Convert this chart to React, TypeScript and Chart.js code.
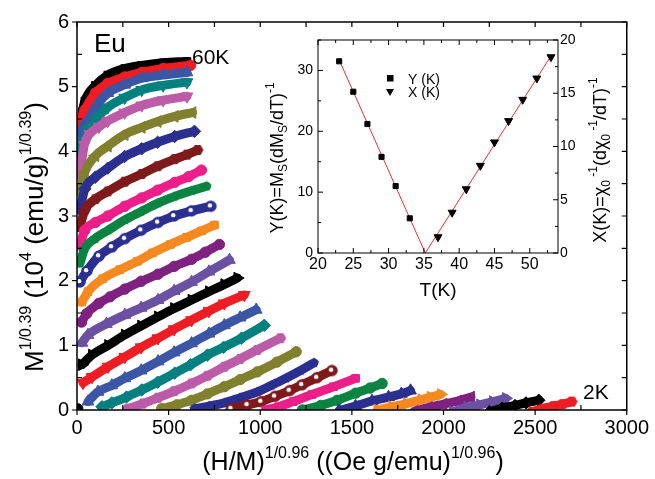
import React, { useEffect, useRef } from 'react';
import { Chart, registerables } from 'chart.js';
Chart.register(...registerables);

const FAMILY = "'Liberation Sans', Arial, Helvetica, sans-serif";

// ---------- main plot data: [ (H/M)^(1/0.96), M^(1/0.39) ] ----------
const temperaturesK = [2, 4, 6, 8, 10, 12, 14, 16, 18, 20, 22, 24, 26, 28, 30, 32, 34, 36, 38, 40, 42, 44, 46, 48, 50, 52, 54, 56, 58, 60];

const m02K: number[][] = [[2480, -0.03], [2540, 0.02], [2600, 0.06], [2650, 0.09], [2700, 0.13]];
const m04K: number[][] = [[2250, -0.03], [2320, 0.03], [2390, 0.07], [2450, 0.11], [2520, 0.15]];
const m06K: number[][] = [[2050, -0.03], [2130, 0.04], [2200, 0.08], [2270, 0.13], [2340, 0.18]];
const m08K: number[][] = [[1840, -0.02], [1920, 0.04], [2000, 0.09], [2080, 0.14], [2150, 0.2]];
const m10K: number[][] = [[1640, 0.0], [1720, 0.05], [1800, 0.1], [1880, 0.16], [1930, 0.2], [1985, 0.24]];
const m12K: number[][] = [[1430, -0.01], [1520, 0.06], [1610, 0.14], [1700, 0.2], [1770, 0.25], [1820, 0.3]];
const m14K: number[][] = [[1230, 0.0], [1330, 0.07], [1420, 0.15], [1520, 0.26], [1600, 0.34], [1665, 0.41]];
const m16K: number[][] = [[1030, 0.0], [1100, 0.05], [1180, 0.13], [1283, 0.24], [1400, 0.36], [1520, 0.49]];
const m18K: number[][] = [[842, 0.02], [930, 0.08], [1005, 0.13], [1080, 0.21], [1160, 0.3], [1228, 0.39], [1310, 0.5], [1391, 0.61]];
const m20K: number[][] = [[641, 0.02], [720, 0.06], [804, 0.11], [890, 0.19], [984, 0.28], [1060, 0.38], [1140, 0.49], [1220, 0.61], [1293, 0.73]];
const m22K: number[][] = [[462, 0.02], [545, 0.08], [625, 0.15], [712, 0.25], [804, 0.36], [890, 0.47], [984, 0.59], [1090, 0.74], [1196, 0.9]];
const m24K: number[][] = [[277, 0.02], [360, 0.1], [442, 0.19], [530, 0.29], [625, 0.41], [712, 0.53], [804, 0.67], [890, 0.79], [984, 0.93], [1110, 1.11]];
const m26K: number[][] = [[136, 0.05], [190, 0.11], [270, 0.2], [353, 0.31], [440, 0.43], [533, 0.57], [620, 0.7], [712, 0.85], [800, 0.97], [897, 1.11], [1022, 1.31]];
const m28K: number[][] = [[60, 0.13], [114, 0.28], [190, 0.38], [261, 0.49], [350, 0.61], [442, 0.75], [530, 0.89], [625, 1.03], [720, 1.18], [804, 1.31], [890, 1.43], [978, 1.55]];
const m30K: number[][] = [[33, 0.42], [82, 0.51], [170, 0.67], [261, 0.82], [350, 0.97], [442, 1.11], [530, 1.25], [625, 1.39], [720, 1.53], [804, 1.65], [913, 1.78]];
const m32K: number[][] = [[27, 0.7], [82, 0.85], [170, 1.0], [261, 1.16], [350, 1.3], [442, 1.44], [530, 1.57], [625, 1.7], [720, 1.83], [804, 1.94], [875, 2.04]];
const m34K: number[][] = [[27, 1.04], [60, 1.16], [160, 1.33], [261, 1.47], [350, 1.58], [442, 1.7], [530, 1.84], [625, 1.98], [720, 2.14], [832, 2.32]];
const m36K: number[][] = [[25, 1.36], [53, 1.49], [120, 1.65], [180, 1.75], [261, 1.87], [350, 1.99], [442, 2.1], [530, 2.22], [625, 2.33], [700, 2.44], [777, 2.56]];
const m38K: number[][] = [[27, 1.67], [60, 1.83], [140, 2.03], [234, 2.17], [330, 2.3], [413, 2.43], [510, 2.56], [598, 2.67], [680, 2.77], [750, 2.86]];
const m40K: number[][] = [[16, 1.98], [54, 2.15], [120, 2.38], [190, 2.52], [261, 2.65], [350, 2.78], [442, 2.9], [530, 3.0], [625, 3.08], [730, 3.15]];
const m42K: number[][] = [[16, 2.27], [43, 2.5], [98, 2.65], [170, 2.78], [261, 2.94], [350, 3.07], [442, 3.2], [530, 3.3], [625, 3.39], [707, 3.46]];
const m44K: number[][] = [[16, 2.55], [43, 2.78], [100, 2.9], [168, 3.0], [260, 3.15], [353, 3.28], [440, 3.4], [533, 3.52], [610, 3.61], [679, 3.71]];
const m46K: number[][] = [[16, 2.83], [43, 3.09], [100, 3.26], [168, 3.38], [260, 3.53], [353, 3.65], [440, 3.77], [533, 3.88], [600, 3.95], [658, 4.02]];
const m48K: number[][] = [[16, 3.1], [43, 3.42], [100, 3.6], [168, 3.74], [260, 3.92], [353, 4.04], [440, 4.14], [533, 4.23], [641, 4.31]];
const m50K: number[][] = [[16, 3.37], [43, 3.68], [100, 3.93], [168, 4.08], [260, 4.26], [353, 4.37], [440, 4.46], [533, 4.54], [630, 4.6]];
const m52K: number[][] = [[16, 3.63], [40, 4.1], [70, 4.27], [120, 4.38], [168, 4.47], [260, 4.6], [353, 4.71], [470, 4.79], [600, 4.85]];
const m54K: number[][] = [[16, 3.82], [35, 4.15], [60, 4.33], [110, 4.52], [168, 4.68], [260, 4.83], [353, 4.95], [470, 5.02], [600, 5.07]];
const m56K: number[][] = [[11, 3.99], [30, 4.35], [60, 4.48], [110, 4.72], [168, 4.9], [260, 5.03], [353, 5.13], [470, 5.18], [600, 5.22]];
const m58K: number[][] = [[11, 4.08], [25, 4.5], [43, 4.64], [100, 4.9], [168, 5.05], [260, 5.15], [353, 5.22], [470, 5.28], [620, 5.33]];
const m60K: number[][] = [[14, 4.22], [30, 4.62], [43, 4.78], [100, 5.02], [168, 5.18], [260, 5.28], [353, 5.33], [470, 5.37], [600, 5.39]];
const strayOrigin: number[][] = [[5, 0.02]];

const seriesByT = [m02K, m04K, m06K, m08K, m10K, m12K, m14K, m16K, m18K, m20K, m22K, m24K, m26K, m28K, m30K,
  m32K, m34K, m36K, m38K, m40K, m42K, m44K, m46K, m48K, m50K, m52K, m54K, m56K, m58K, m60K];

const RED = '#EE1D24', BLACK = '#000000', VIOLET = '#6B51A2', PURPLE = '#7E2180', ORANGE = '#F6891F',
  NAVY = '#2B2F8F', GREEN = '#0B8441', HOTPINK = '#EC1E8A', WINE = '#7E1A1C', OLIVE = '#80802E',
  MAGENTA = '#BC5BA8', TEAL = '#00807F', BLUE = '#3C56A6';

const seriesColors = [RED, BLACK, VIOLET, PURPLE, ORANGE, NAVY, GREEN, HOTPINK, WINE, NAVY, OLIVE, MAGENTA, TEAL, BLUE,
  RED, BLACK, VIOLET, PURPLE, ORANGE, NAVY, GREEN, HOTPINK, WINE, NAVY, OLIVE, MAGENTA, TEAL, BLUE, RED, BLACK];

const seriesShapes = ['hex', 'diamond', 'tri90', 'tri270', 'tri90', 'tri0', 'circle', 'rect', 'sphere', 'star',
  'circle', 'hex', 'diamond', 'tri0', 'tri180', 'tri90', 'tri0', 'circle', 'rect', 'sphere',
  'star', 'circle', 'hex', 'diamond', 'tri270', 'tri180', 'tri180', 'tri0', 'circle', 'rect'];

const xTickStep = 500;
const yTickStep = 1;

// ---------- inset data ----------
const yKTemps = [23, 25, 27, 29, 31, 33];
const yKValues = [31.5, 26.5, 21.2, 15.8, 11.0, 5.7];
const xKTemps = [37, 39, 41, 43, 45, 47, 49, 51, 53];
const xKValues = [1.5, 3.8, 6.0, 8.2, 10.4, 12.4, 14.4, 16.4, 18.4];
const fitYLine = [[23, 31.7], [35.2, 0]];
const fitXLine = [[35.2, 0], [53, 18.5]];

type Seg = { t: string; s: number; dy: number };

function drawRich(ctx: CanvasRenderingContext2D, segs: Seg[], x: number, y: number, rotate: boolean) {
  ctx.save();
  ctx.translate(x, y);
  if (rotate) ctx.rotate(-Math.PI / 2);
  ctx.fillStyle = '#000';
  ctx.textAlign = 'left';
  ctx.textBaseline = 'alphabetic';
  let w = 0;
  for (const s of segs) { ctx.font = `${s.s}px ${FAMILY}`; w += ctx.measureText(s.t).width; }
  let cx = -w / 2;
  for (const s of segs) {
    ctx.font = `${s.s}px ${FAMILY}`;
    ctx.fillText(s.t, cx, s.dy);
    cx += ctx.measureText(s.t).width;
  }
  ctx.restore();
}

function makeMarker(kind: string, color: string, r: number): HTMLCanvasElement {
  const size = Math.ceil(r * 2 + 2);
  const c = document.createElement('canvas');
  c.width = size; c.height = size;
  const g = c.getContext('2d')!;
  const cx = size / 2, cy = size / 2;
  g.fillStyle = color;
  g.beginPath();
  if (kind === 'star') {
    for (let i = 0; i < 10; i++) {
      const a = -Math.PI / 2 + (i * Math.PI) / 5;
      const rr = i % 2 === 0 ? r : r * 0.45;
      const px = cx + rr * Math.cos(a), py = cy + rr * Math.sin(a);
      if (i === 0) g.moveTo(px, py); else g.lineTo(px, py);
    }
    g.closePath();
    g.fill();
  } else if (kind === 'hex') {
    for (let i = 0; i < 6; i++) {
      const a = (i * Math.PI) / 3;
      const px = cx + r * Math.cos(a), py = cy + r * Math.sin(a);
      if (i === 0) g.moveTo(px, py); else g.lineTo(px, py);
    }
    g.closePath();
    g.fill();
  } else {
    g.arc(cx, cy, r, 0, Math.PI * 2);
    g.fill();
    g.fillStyle = '#ffffff';
    g.beginPath();
    g.arc(cx - r * 0.15, cy - r * 0.15, r * 0.38, 0, Math.PI * 2);
    g.fill();
  }
  return c;
}

function shapeProps(kind: string, color: string) {
  switch (kind) {
    case 'rect': return { pointStyle: 'rect', rotation: 0, pointRadius: 5.4 };
    case 'circle': return { pointStyle: 'circle', rotation: 0, pointRadius: 5.2 };
    case 'diamond': return { pointStyle: 'rectRot', rotation: 0, pointRadius: 6.2 };
    case 'tri0': return { pointStyle: 'triangle', rotation: 0, pointRadius: 6.8 };
    case 'tri90': return { pointStyle: 'triangle', rotation: 90, pointRadius: 6.8 };
    case 'tri180': return { pointStyle: 'triangle', rotation: 180, pointRadius: 6.8 };
    case 'tri270': return { pointStyle: 'triangle', rotation: 270, pointRadius: 6.8 };
    default: return { pointStyle: makeMarker(kind, color, 5.8), rotation: 0, pointRadius: 5 };
  }
}

const mainOverlay = {
  id: 'mainOverlay',
  afterDraw(chart: any) {
    const { ctx, chartArea: a, scales } = chart;
    const x = scales.x, y = scales.y;
    ctx.save();
    ctx.strokeStyle = '#000';
    ctx.lineWidth = 1.5;
    ctx.strokeRect(a.left, a.top, a.right - a.left, a.bottom - a.top);
    ctx.lineWidth = 1.2;
    ctx.beginPath();
    for (let v = 0; v <= 3000; v += 250) {
      const px = x.getPixelForValue(v);
      const major = v % 500 === 0;
      if (major) { ctx.moveTo(px, a.bottom); ctx.lineTo(px, a.bottom + 5); }
      else { ctx.moveTo(px, a.bottom); ctx.lineTo(px, a.bottom - 5); }
      ctx.moveTo(px, a.top); ctx.lineTo(px, a.top + 5);
    }
    for (let v = 0; v <= 6; v += 0.5) {
      const py = y.getPixelForValue(v);
      const major = Math.abs(v - Math.round(v)) < 1e-6;
      if (major) { ctx.moveTo(a.left, py); ctx.lineTo(a.left - 5, py); }
      else { ctx.moveTo(a.left, py); ctx.lineTo(a.left + 5, py); }
      ctx.moveTo(a.right, py); ctx.lineTo(a.right - 5, py);
    }
    ctx.stroke();

    ctx.fillStyle = '#000';
    ctx.textAlign = 'left';
    ctx.textBaseline = 'alphabetic';
    ctx.font = `26px ${FAMILY}`;
    ctx.fillText('Eu', 94, 52);
    ctx.font = `21px ${FAMILY}`;
    ctx.fillText('60K', 192, 64);
    ctx.fillText('2K', 583, 399);

    drawRich(ctx, [
      { t: '(H/M)', s: 25, dy: 0 }, { t: '1/0.96', s: 16, dy: -12 },
      { t: ' ((Oe g/emu)', s: 25, dy: 0 }, { t: '1/0.96', s: 16, dy: -12 }, { t: ')', s: 25, dy: 0 },
    ], 353, 470, false);
    drawRich(ctx, [
      { t: 'M', s: 26, dy: 0 }, { t: '1/0.39', s: 16, dy: -12 },
      { t: ' (10', s: 26, dy: 0 }, { t: '4', s: 16, dy: -12 },
      { t: ' (emu/g)', s: 26, dy: 0 }, { t: '1/0.39', s: 16, dy: -12 }, { t: ')', s: 26, dy: 0 },
    ], 43, 237, true);
    ctx.restore();
  },
};

const INSET_LEFT = 260, INSET_TOP = 20;

const insetOverlay = {
  id: 'insetOverlay',
  afterDraw(chart: any) {
    const { ctx, chartArea: a, scales } = chart;
    const x = scales.x, y = scales.y, y2 = scales.y2;
    ctx.save();
    ctx.strokeStyle = '#000';
    ctx.lineWidth = 1;
    ctx.strokeRect(a.left, a.top, a.right - a.left, a.bottom - a.top);
    ctx.beginPath();
    for (let v = 20; v <= 54; v += 2.5) {
      const px = x.getPixelForValue(v);
      const len = v % 5 === 0 ? 5 : 3;
      ctx.moveTo(px, a.bottom); ctx.lineTo(px, a.bottom - len);
      ctx.moveTo(px, a.top); ctx.lineTo(px, a.top + len);
    }
    for (let v = 0; v <= 35; v += 5) {
      const py = y.getPixelForValue(v);
      const len = v % 10 === 0 ? 5 : 3;
      ctx.moveTo(a.left, py); ctx.lineTo(a.left + len, py);
    }
    for (let v = 0; v <= 20; v += 2.5) {
      const py = y2.getPixelForValue(v);
      const len = v % 5 === 0 ? 5 : 3;
      ctx.moveTo(a.right, py); ctx.lineTo(a.right - len, py);
    }
    ctx.stroke();

    const ox = INSET_LEFT, oy = INSET_TOP;
    // legend
    ctx.fillStyle = '#000';
    ctx.fillRect(387 - ox, 75 - oy, 6.5, 6.5);
    ctx.beginPath();
    ctx.moveTo(386 - ox, 89 - oy); ctx.lineTo(394 - ox, 89 - oy); ctx.lineTo(390 - ox, 96 - oy); ctx.closePath();
    ctx.fill();
    ctx.font = `14px ${FAMILY}`;
    ctx.textAlign = 'left';
    ctx.textBaseline = 'alphabetic';
    ctx.fillText('Y (K)', 408 - ox, 84 - oy);
    ctx.fillText('X (K)', 408 - ox, 97 - oy);

    drawRich(ctx, [{ t: 'T(K)', s: 19, dy: 0 }], 438 - ox, 296 - oy, false);
    drawRich(ctx, [
      { t: 'Y(K)=M', s: 18, dy: 0 }, { t: 'S', s: 12, dy: 4 }, { t: '(dM', s: 18, dy: 0 },
      { t: 'S', s: 12, dy: 4 }, { t: '/dT)', s: 18, dy: 0 }, { t: '-1', s: 12, dy: -9 },
    ], 283 - ox, 158 - oy, true);
    drawRich(ctx, [
      { t: 'X(K)=χ', s: 18, dy: 0 }, { t: '0', s: 12, dy: 4 }, { t: ' -1', s: 12, dy: -9 },
      { t: '(dχ', s: 18, dy: 0 }, { t: '0', s: 12, dy: 4 }, { t: ' -1', s: 12, dy: -9 },
      { t: '/dT)', s: 18, dy: 0 }, { t: '-1', s: 12, dy: -9 },
    ], 606 - ox, 160 - oy, true);
    ctx.restore();
  },
};

export default function App() {
  const mainRef = useRef<HTMLCanvasElement>(null);
  const insetRef = useRef<HTMLCanvasElement>(null);

  useEffect(() => {
    const datasets: any[] = seriesByT.map((pts, i) => {
      const color = seriesColors[i];
      const sp = shapeProps(seriesShapes[i], color);
      return {
        label: `${temperaturesK[i]}K`,
        data: pts.map(([px, py]) => ({ x: px, y: py })),
        showLine: true,
        borderColor: color,
        borderWidth: 9,
        borderCapStyle: 'round',
        borderJoinStyle: 'round',
        cubicInterpolationMode: 'monotone',
        backgroundColor: color,
        pointBackgroundColor: color,
        pointBorderColor: color,
        pointBorderWidth: 1,
        pointStyle: sp.pointStyle,
        rotation: sp.rotation,
        pointRadius: sp.pointRadius,
        clip: 0,
      };
    });
    datasets.push({
      label: 'stray',
      data: strayOrigin.map(([px, py]) => ({ x: px, y: py })),
      showLine: false,
      pointStyle: 'circle',
      pointRadius: 5,
      backgroundColor: BLACK,
      pointBorderColor: BLACK,
      clip: 0,
    });

    const tickFont = { family: FAMILY, size: 20 };
    const main = new Chart(mainRef.current!, {
      type: 'scatter',
      data: { datasets },
      options: {
        animation: false,
        responsive: false,
        maintainAspectRatio: false,
        layout: { padding: { top: 22, right: 26, left: 0, bottom: 0 } },
        plugins: { legend: { display: false }, tooltip: { enabled: false } },
        scales: {
          x: {
            type: 'linear', min: 0, max: 3000,
            afterFit: (s: any) => { s.height = 69; },
            grid: { display: false, drawTicks: false },
            border: { display: false },
            ticks: {
              stepSize: xTickStep, font: tickFont, color: '#000', padding: 6, maxRotation: 0,
              callback: (v: any) => String(v),
            },
          },
          y: {
            type: 'linear', min: 0, max: 6,
            afterFit: (s: any) => { s.width = 77; },
            grid: { display: false, drawTicks: false },
            border: { display: false },
            ticks: { stepSize: yTickStep, font: tickFont, color: '#000', padding: 8, callback: (v: any) => String(v) },
          },
        },
      } as any,
      plugins: [mainOverlay],
    } as any);

    const inset = new Chart(insetRef.current!, {
      type: 'scatter',
      data: {
        datasets: [
          {
            label: 'Y (K)',
            data: yKTemps.map((t, i) => ({ x: t, y: yKValues[i] })),
            yAxisID: 'y', pointStyle: 'rect', pointRadius: 3.6,
            backgroundColor: '#000', pointBorderColor: '#000', showLine: false,
          },
          {
            label: 'X (K)',
            data: xKTemps.map((t, i) => ({ x: t, y: xKValues[i] })),
            yAxisID: 'y2', pointStyle: 'triangle', rotation: 180, pointRadius: 4.6,
            backgroundColor: '#000', pointBorderColor: '#000', showLine: false,
          },
          {
            label: 'fitY',
            data: fitYLine.map(([a, b]) => ({ x: a, y: b })),
            yAxisID: 'y', showLine: true, borderColor: '#E8322B', borderWidth: 1, pointRadius: 0,
          },
          {
            label: 'fitX',
            data: fitXLine.map(([a, b]) => ({ x: a, y: b })),
            yAxisID: 'y2', showLine: true, borderColor: '#E8322B', borderWidth: 1, pointRadius: 0,
          },
        ],
      },
      options: {
        animation: false,
        responsive: false,
        maintainAspectRatio: false,
        layout: { padding: { top: 20, right: 0, left: 0, bottom: 0 } },
        plugins: { legend: { display: false }, tooltip: { enabled: false } },
        scales: {
          x: {
            type: 'linear', min: 20, max: 54,
            afterFit: (s: any) => { s.height = 67; },
            grid: { display: false, drawTicks: false },
            border: { display: false },
            ticks: {
              stepSize: 5, font: { family: FAMILY, size: 16 }, color: '#000', padding: 2, maxRotation: 0,
              callback: (v: any) => (v % 5 === 0 ? String(v) : ''),
            },
          },
          y: {
            type: 'linear', position: 'left', min: 0, max: 35,
            afterFit: (s: any) => { s.width = 58; },
            grid: { display: false, drawTicks: false },
            border: { display: false },
            ticks: {
              stepSize: 10, font: { family: FAMILY, size: 14 }, color: '#000', padding: 5,
              callback: (v: any) => (v % 10 === 0 ? String(v) : ''),
            },
          },
          y2: {
            type: 'linear', position: 'right', min: 0, max: 20,
            afterFit: (s: any) => { s.width = 72; },
            grid: { display: false, drawTicks: false },
            border: { display: false },
            ticks: { stepSize: 5, font: { family: FAMILY, size: 14 }, color: '#000', padding: 2 },
          },
        },
      } as any,
      plugins: [insetOverlay],
    } as any);

    return () => { main.destroy(); inset.destroy(); };
  }, []);

  return (
    <div style={{ position: 'absolute', left: 0, top: 0, width: 655, height: 479, background: '#fff' }}>
      <canvas ref={mainRef} width={655} height={479}
        style={{ position: 'absolute', left: 0, top: 0, width: 655, height: 479 }} />
      <canvas ref={insetRef} width={370} height={300}
        style={{ position: 'absolute', left: INSET_LEFT, top: INSET_TOP, width: 370, height: 300 }} />
    </div>
  );
}
